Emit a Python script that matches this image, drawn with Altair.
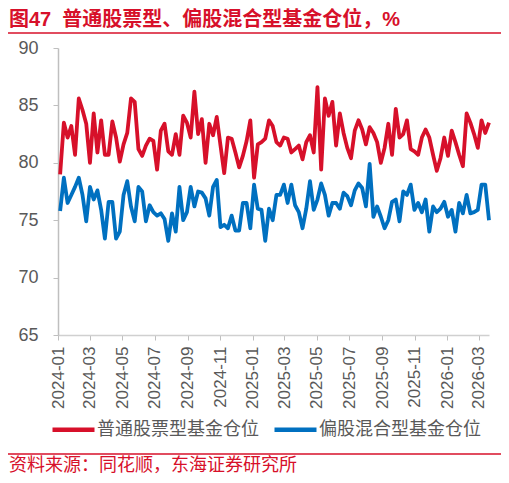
import altair as alt
import pandas as pd

title_text = "图47\u00a0\u00a0普通股票型、偏股混合型基金仓位，%"
source_text = "资料来源：同花顺，东海证券研究所"
series_names = ["普通股票型基金仓位", "偏股混合型基金仓位"]
series_colors = ["#D7102A", "#0070C0"]

stock_fund = [79.0, 83.5, 82.2, 83.2, 80.7, 85.6, 84.6, 83.4, 80.0, 84.3, 80.9, 83.7, 80.7, 80.7,
              83.6, 82.2, 80.1, 81.6, 82.6, 85.6, 85.3, 81.2, 80.6, 81.5, 82.1, 81.9, 79.4, 82.8,
              83.4, 81.0, 80.7, 82.5, 80.7, 84.1, 83.5, 82.2, 86.2, 82.5, 83.8, 80.0, 83.4, 82.4,
              84.0, 81.5, 79.1, 82.2, 82.1, 80.9, 79.6, 80.6, 81.9, 83.7, 78.7, 81.6, 81.8, 82.1,
              83.7, 83.2, 81.8, 81.5, 82.2, 82.1, 80.9, 81.2, 81.5, 80.3, 81.8, 82.4, 80.9, 86.6,
              79.4, 85.6, 84.1, 85.3, 81.5, 84.3, 82.6, 81.3, 80.4, 82.8, 83.7, 82.9, 81.6, 83.1,
              82.6, 81.8, 80.0, 81.3, 83.4, 80.7, 84.7, 82.2, 82.5, 83.7, 81.2, 81.0, 80.7, 82.2,
              82.9, 82.2, 80.7, 79.3, 80.4, 82.2, 80.6, 82.8, 81.8, 80.7, 79.7, 84.3, 83.5, 82.5,
              81.3, 83.7, 82.6, 83.5]

mixed_fund = [75.8, 78.7, 76.5, 77.2, 77.9, 78.7, 77.2, 74.9, 77.9, 76.8, 77.6, 75.9, 73.4, 76.6,
              76.6, 73.4, 74.0, 77.2, 78.4, 76.2, 74.9, 77.9, 77.5, 74.9, 76.3, 75.7, 75.4, 75.6,
              75.1, 73.2, 75.6, 74.0, 77.9, 75.0, 75.7, 77.9, 76.2, 77.5, 77.4, 76.9, 75.4, 77.9,
              78.5, 74.4, 74.6, 74.3, 75.4, 74.1, 74.1, 76.5, 76.5, 74.3, 78.1, 76.0, 75.9, 73.2,
              76.0, 75.0, 77.2, 77.2, 78.1, 76.5, 78.1, 76.3, 75.7, 74.3, 76.0, 78.4, 75.9, 76.8,
              78.2, 77.2, 75.4, 76.5, 76.5, 76.0, 77.4, 77.1, 76.3, 77.6, 78.2, 77.8, 76.2, 79.9,
              75.3, 76.2, 75.3, 74.3, 75.0, 76.6, 76.8, 74.9, 77.5, 77.2, 78.1, 75.9, 76.5, 75.7,
              76.8, 74.0, 76.2, 75.7, 76.0, 76.6, 75.3, 75.9, 74.0, 76.5, 75.6, 77.2, 75.6, 75.7,
              75.9, 78.1, 78.1, 75.0]

dates = pd.date_range("2024-01-05", periods=len(stock_fund), freq="7D").strftime("%Y-%m-%d").tolist()
tick_months = pd.date_range("2024-01-01", "2026-03-01", freq="2MS")

rows = []
for d, v in zip(dates, stock_fund):
    rows.append({"date": d, "series": series_names[0], "value": v})
for d, v in zip(dates[:len(mixed_fund)], mixed_fund):
    rows.append({"date": d, "series": series_names[1], "value": v})
df = pd.DataFrame(rows)

tick_values = [alt.DateTime(year=t.year, month=t.month, date=1, utc=True) for t in tick_months]
font_latin = "Liberation Sans, Noto Sans CJK SC"
font_cjk = "Noto Sans CJK SC"
red = "#D7102A"
gray = "#595959"

lines = alt.Chart(df).mark_line(strokeWidth=3.8, strokeJoin="round", clip=False).encode(
    x=alt.X("date:T",
            scale=alt.Scale(type="utc", domain=[alt.DateTime(year=2024, month=1, date=1, utc=True),
                                                alt.DateTime(year=2026, month=3, date=20, utc=True)],
                            nice=False),
            axis=alt.Axis(values=tick_values, format="%Y-%m", labelAngle=270, title=None,
                          labelFontSize=17, labelFont=font_latin, labelColor=gray,
                          tickSize=5, labelPadding=6, tickColor="#BFBFBF", domainColor="#D0D0D0",
                          domainWidth=1.5, grid=False, labelOverlap=False)),
    y=alt.Y("value:Q", scale=alt.Scale(domain=[65, 90], nice=False, zero=False),
            axis=alt.Axis(values=[65, 70, 75, 80, 85, 90], title=None, labelFontSize=18,
                          labelFont=font_latin, labelColor=gray, tickSize=5, labelPadding=15,
                          tickColor="#BFBFBF", domainColor="#BFBFBF", domainWidth=1.5, grid=False)),
    color=alt.Color("series:N",
                    scale=alt.Scale(domain=series_names, range=series_colors),
                    sort=series_names,
                    legend=alt.Legend(orient="none", legendX=-8, legendY=358, direction="horizontal",
                                      title=None, symbolType="stroke", symbolSize=1764,
                                      symbolStrokeWidth=4.5, labelFontSize=18, labelFont=font_cjk,
                                      labelColor=gray, labelOffset=0, columnPadding=6,
                                      labelLimit=300, padding=0)),
    detail="series:N",
)

title_mark = alt.Chart(pd.DataFrame({"t": [title_text]})).mark_text(
    align="left", baseline="middle", fontSize=20, fontWeight="bold", font=font_latin, color=red
).encode(text="t:N", x=alt.value(-49), y=alt.value(-28))

source_mark = alt.Chart(pd.DataFrame({"t": [source_text]})).mark_text(
    align="left", baseline="middle", fontSize=18, font=font_cjk, color=red
).encode(text="t:N", x=alt.value(-49), y=alt.value(418))

top_rule = alt.Chart(pd.DataFrame({"k": [0]})).mark_rule(color=red, strokeWidth=1.5).encode(
    x=alt.value(-50), x2=alt.value(443), y=alt.value(-15))
bottom_rule = alt.Chart(pd.DataFrame({"k": [0]})).mark_rule(color=red, strokeWidth=1.5).encode(
    x=alt.value(-50), x2=alt.value(443), y=alt.value(406))

chart = alt.layer(lines, title_mark, source_mark, top_rule, bottom_rule).properties(
    width=431, height=287,
    padding={"left": 50, "top": 40, "right": 12, "bottom": 140},
    autosize=alt.AutoSizeParams(type="none"),
).configure_view(stroke=None)

chart.save("out.html", embed_options={"renderer": "svg", "actions": False})
